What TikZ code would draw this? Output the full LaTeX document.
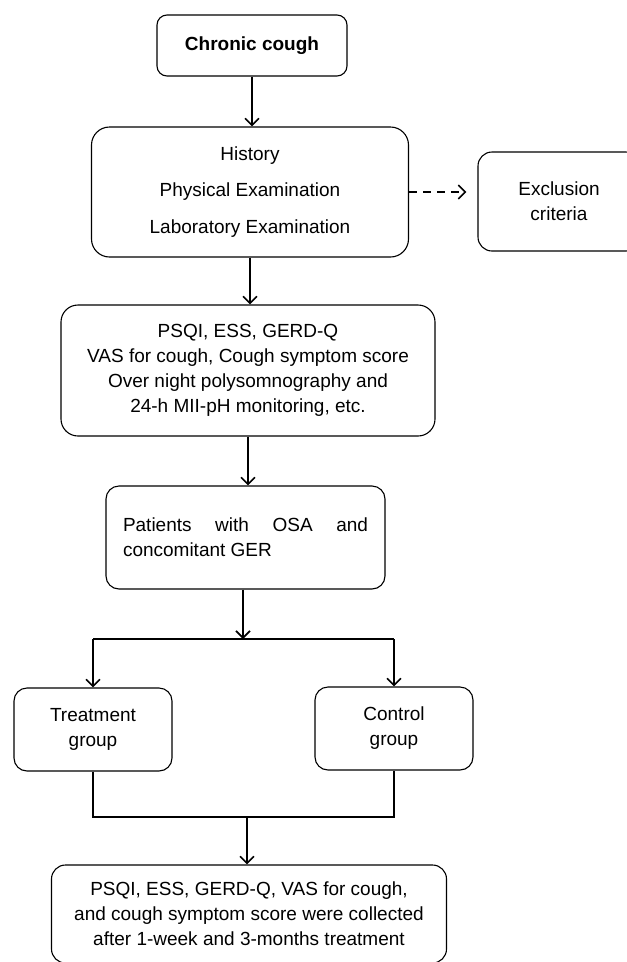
\documentclass[tikz,border=0pt]{standalone}
\usepackage{fontspec}
\setmainfont{Liberation Sans}
\usepackage{tikz}
\usetikzlibrary{arrows.meta}

\tikzset{
  box/.style={draw, line width=1.1pt, rounded corners=14pt, inner sep=0pt,
    align=center, font=\fontsize{19}{25}\selectfont},
  flow/.style={line width=1.6pt, -{Straight Barb[length=7pt,width=14pt,line width=1.6pt]}},
  plain/.style={line width=1.6pt}
}

\begin{document}
\begin{tikzpicture}[x=1pt, y=-1pt]
    \useasboundingbox (0,0) rectangle (627,962);

    % Boxes
    \node[box, minimum width=190pt, minimum height=61pt, rounded corners=10pt] (cough) at (252,45.5) {\textbf{Chronic cough}};
    \node[box, minimum width=317pt, minimum height=130pt, rounded corners=18pt] (exam) at (250,192)
        {History\\[11.5pt] Physical Examination\\[11.5pt] Laboratory Examination};
    \node[box, minimum width=162pt, minimum height=99pt] (excl) at (559,201.5) {Exclusion\\criteria};
    \node[box, minimum width=374pt, minimum height=131pt, rounded corners=17pt] (psqi) at (248,370.5)
        {PSQI, ESS, GERD-Q\\ VAS for cough, Cough symptom score\\ Over night polysomnography and\\ 24-h MII-pH monitoring, etc.};
    \node[box, minimum width=279pt, minimum height=103pt, rounded corners=13pt, text width=245pt, align=justify] (pat) at (245.5,537.5)
        {Patients with OSA and \mbox{concomitant} GER};
    \node[box, minimum width=158pt, minimum height=83pt, rounded corners=13pt] (treat) at (93,729.5) {Treatment\\group};
    \node[box, minimum width=158pt, minimum height=83pt, rounded corners=13pt] (ctrl) at (394,728.5) {Control\\group};
    \node[box, minimum width=395pt, minimum height=98pt] (final) at (249,914)
        {PSQI, ESS, GERD-Q, VAS for cough,\\ and cough symptom score were collected\\ after 1-week and 3-months treatment};

    % Split and join points
    \coordinate (split) at (243,639);
    \coordinate (join) at (247,817);

    % Arrows
    \draw[flow] (cough.south) -- (cough.south |- exam.north);
    \draw[flow, dash pattern=on 8pt off 6pt, shorten >=11pt] (exam.east) -- (excl.west |- exam.east);
    \draw[flow] (exam.south) -- (exam.south |- psqi.north);
    \draw[flow] (psqi.south) -- (psqi.south |- pat.north);
    \draw[flow] (split |- pat.south) -- (split);
    \draw[plain] (treat.north |- split) -- (ctrl.north |- split);
    \draw[flow] (treat.north |- split) -- (treat.north);
    \draw[flow] (ctrl.north |- split) -- (ctrl.north);
    \draw[plain] (treat.south) -- (treat.south |- join) -- (ctrl.south |- join) -- (ctrl.south);
    \draw[flow] (join) -- (join |- final.north);
\end{tikzpicture}
\end{document}
